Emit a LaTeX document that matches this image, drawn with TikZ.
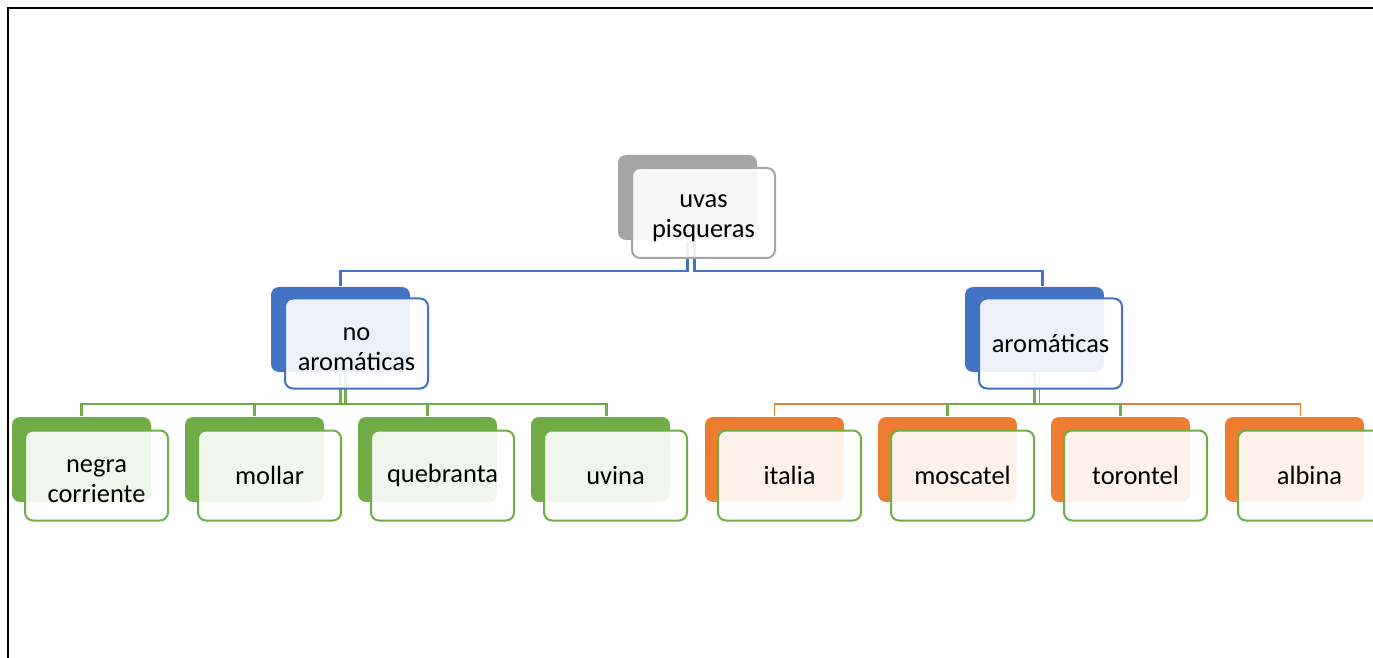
\documentclass[tikz,border=0pt]{standalone}
\usepackage{fontspec}
\setmainfont{Carlito}
\usetikzlibrary{positioning,calc}
\definecolor{gris}{HTML}{A5A5A5}
\definecolor{azul}{HTML}{4472C4}
\definecolor{verde}{HTML}{70AD47}
\definecolor{naranja}{HTML}{ED7D31}
\begin{document}
\begin{tikzpicture}
[x=0.5pt,y=-0.5pt,thick,every node/.style={rounded corners=4pt,inner
	sep=1pt,align=center},
back/.style={minimum width=69.5pt,minimum height=42.5pt},
front/.style={draw,line width=1pt,fill=white,fill opacity=0.9,text opacity=1,
	minimum width=71.5pt,minimum height=45pt,font=\fontsize{13.2}{15}\selectfont},
two lines/.style={text height=27pt},
conn/.style={line width=1.1pt},
thin conn/.style={line width=0.7pt}]
\useasboundingbox (0,0) rectangle (1373,658);
\draw[line width=1pt] (8,700) -- (8,8) -- (1400,8);

\node[back,fill=gris] (uvas-b) at (687.5,197.5) {};
\node[back,fill=azul] (noaro-b) at (340.5,329.5) {};
\node[back,fill=azul] (aro-b) at (1034.5,329.5) {};
\foreach \name/\x/\col in {negra/81.5/verde,mollar/254.5/verde,
	quebranta/427.5/verde,uvina/600.5/verde,italia/774.5/naranja,
	moscatel/947.5/naranja,torontel/1120.5/naranja,albina/1294.5/naranja}
{
	\node[back,fill=\col] (\name-b) at (\x,459.5) {};
}

\draw[conn,azul] (uvas-b.south) -- ++(0,30) -| (noaro-b.north);
\draw[conn,azul] ([xshift=3.5pt]uvas-b.south) -- ++(0,30) -| ([xshift=4pt]aro-b.north);
\foreach \endNode in {negra,mollar,quebranta}
{
	\draw[conn,verde] (noaro-b.south) -- ++(0,31) -| (\endNode-b.north);
}
\draw[conn,verde] ([xshift=2.5pt]noaro-b.south) -- ++(0,31) -| ([xshift=3pt]uvina-b.north);
\draw[thin conn,naranja] ([xshift=2.5pt]aro-b.south) -- ++(0,31) -| (italia-b.north);
\draw[thin conn,naranja] ([xshift=2.5pt]aro-b.south) -- ++(0,31) -| ([xshift=3pt]albina-b.north);
\foreach \endNode in {moscatel,torontel}
{
	\draw[conn,verde] (aro-b.south) -- ++(0,31) -| (\endNode-b.north);
}

\node[front,two lines,draw=gris] (uvas) at (703.5,213) {uvas\\pisqueras};
\node[front,two lines,draw=azul] (noaro) at (356.5,343.5) {no\\aromáticas};
\node[front,draw=azul] (aro) at (1050.5,343.5) {aromáticas};
\node[front,two lines,draw=verde] (negra) at (96.5,475.5) {negra\\corriente};
\foreach \name/\x in {mollar/269.5,quebranta/442.5,uvina/615.5,
	italia/789.5,moscatel/962.5,torontel/1135.5,albina/1309.5}
{
	\node[front,draw=verde] (\name) at (\x,475.5) {\name};
}
\end{tikzpicture}
\end{document}
